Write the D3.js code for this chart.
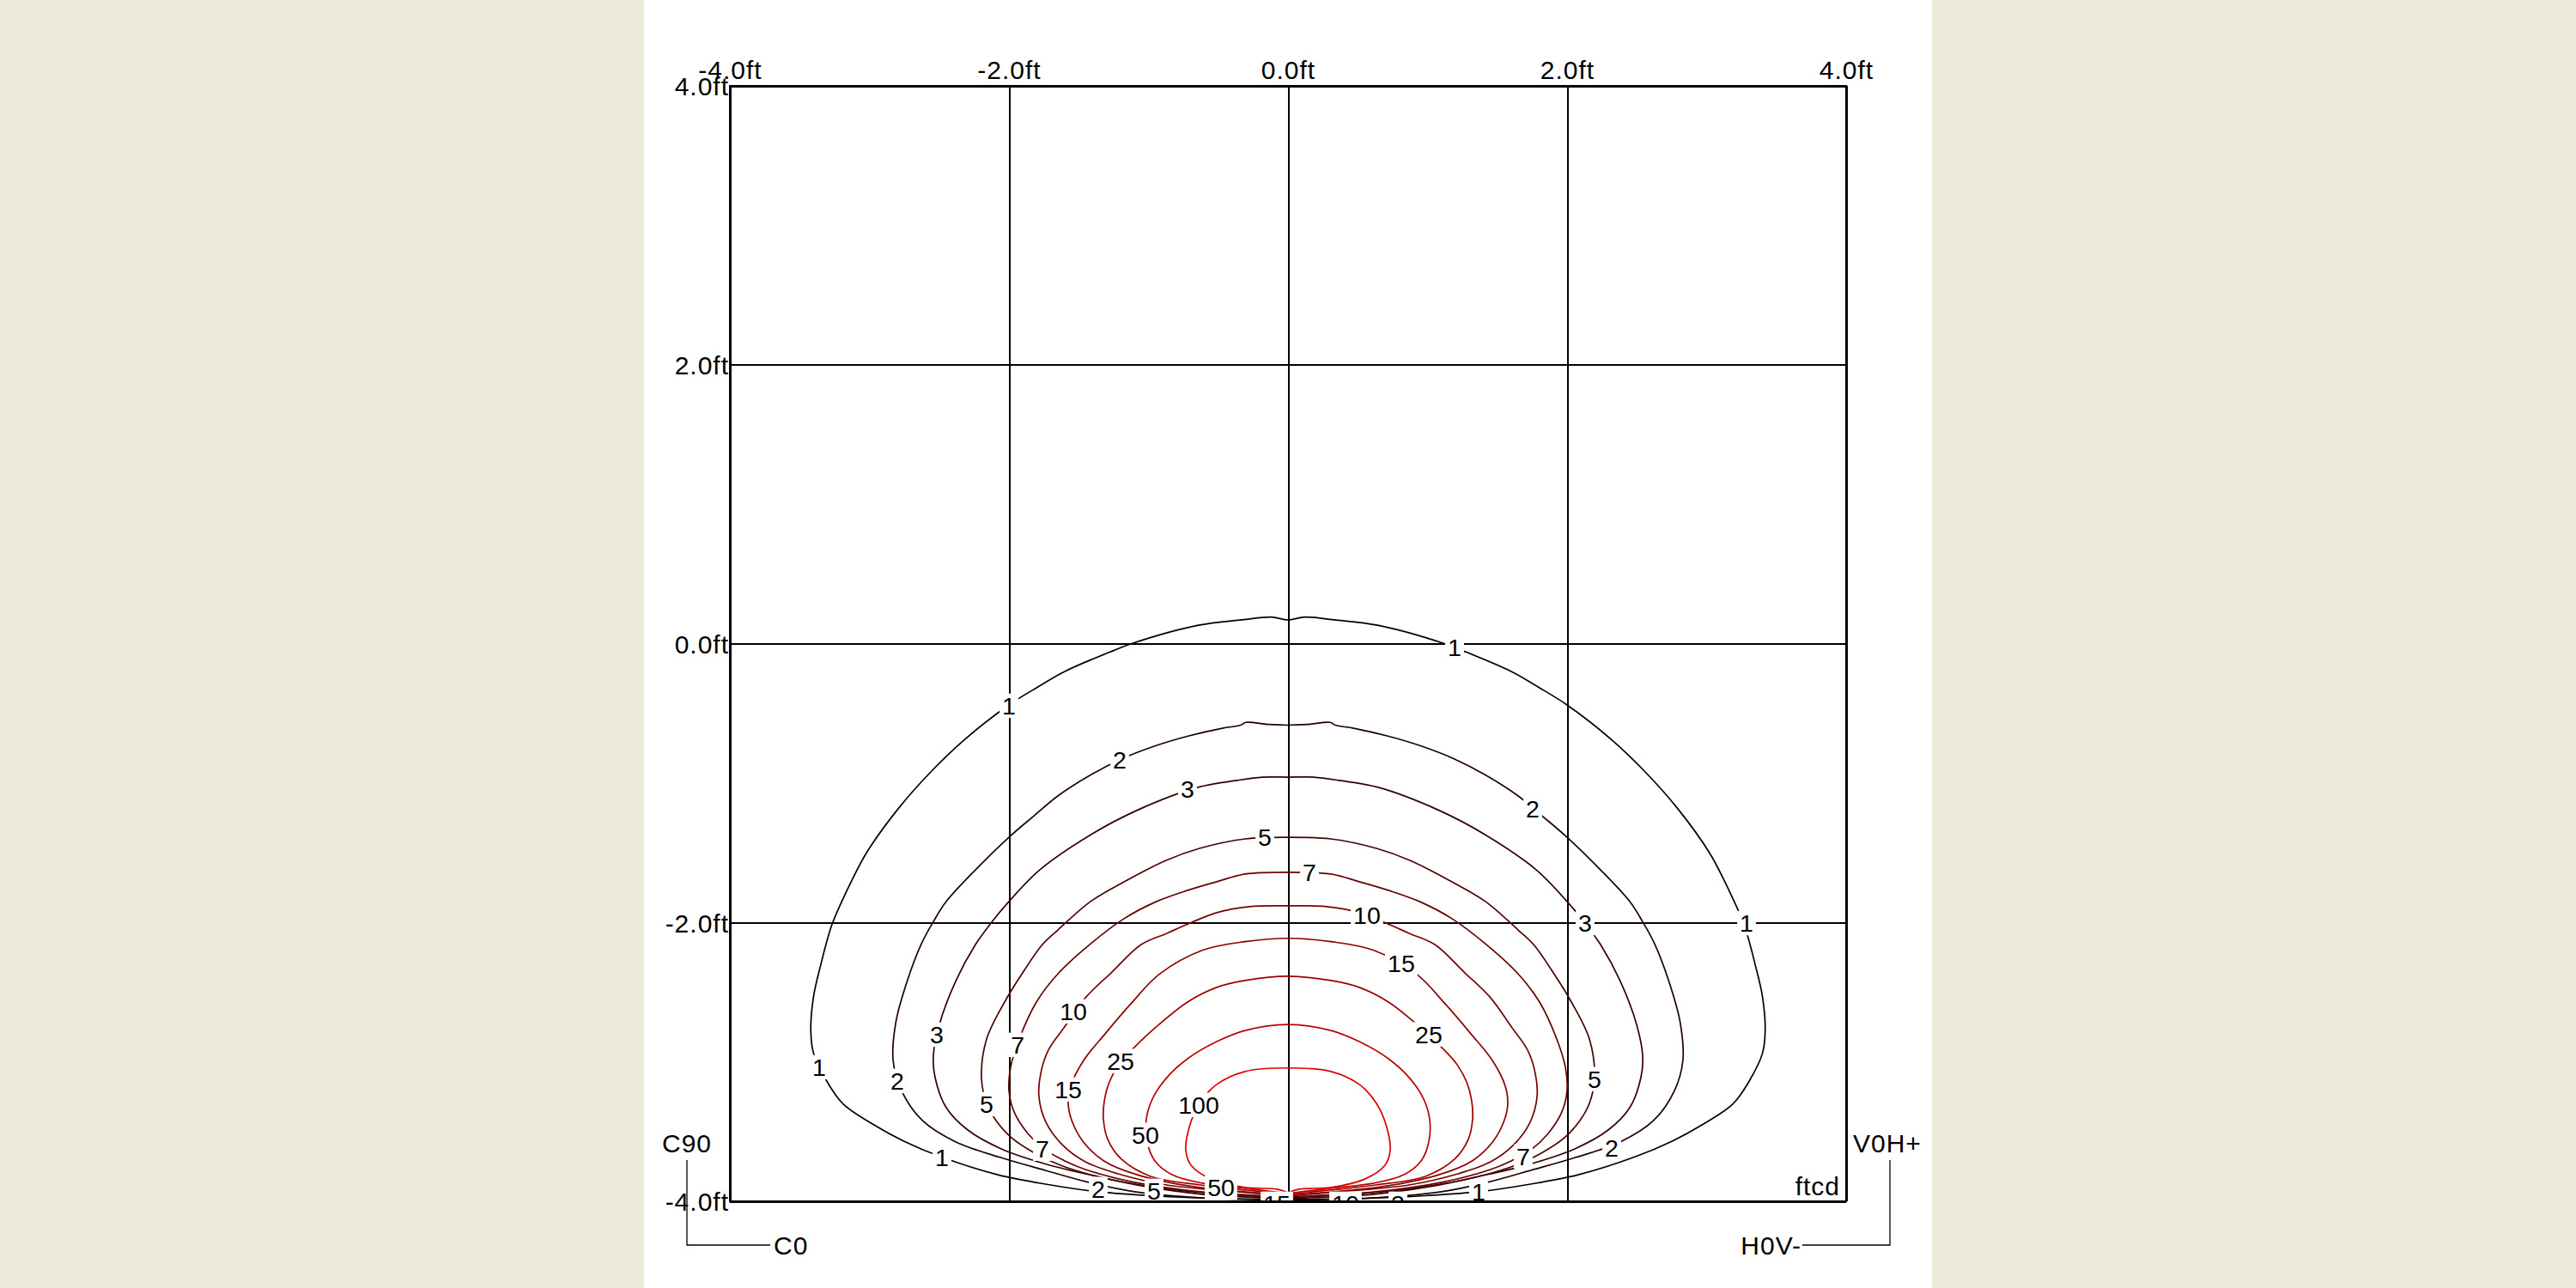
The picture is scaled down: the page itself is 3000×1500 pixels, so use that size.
<!DOCTYPE html>
<html><head><meta charset="utf-8">
<script src="https://cdn.jsdelivr.net/npm/d3@7"></script>
<style>
html,body{margin:0;padding:0;background:#ECE9D8;}
svg{display:block}
text{font-family:"Liberation Sans",Arial,sans-serif;}
</style></head><body>
<svg id="c" width="3000" height="1500"></svg>
<script>
// ---------- data ----------
const xTickValues = [-4, -2, 0, 2, 4];
const yTickValues = [-4, -2, 0, 2, 4];
const xTickLabels = ["-4.0ft", "-2.0ft", "0.0ft", "2.0ft", "4.0ft"];
const yTickLabels = ["-4.0ft", "-2.0ft", "0.0ft", "2.0ft", "4.0ft"];
const levels = [1, 2, 3, 5, 7, 10, 15, 25, 50, 100];
const unitText = "ftcd";
const cornerLeftTexts = ["C90", "C0"];
const cornerRightTexts = ["V0H+", "H0V-"];

// isoline right halves (ft), from top centre clockwise to bottom centre; the left half is the mirror image
const contour1 = [[0,0.17],[0.12,0.19],[0.33,0.17],[0.65,0.13],[1.12,0.0],[1.25,-0.05],[1.6,-0.2],[1.79,-0.31],[2.0,-0.44],[2.32,-0.69],[2.55,-0.91],[2.79,-1.18],[3.02,-1.5],[3.17,-1.79],[3.27,-2.02],[3.35,-2.31],[3.4,-2.53],[3.42,-2.77],[3.4,-2.94],[3.31,-3.13],[3.19,-3.3],[2.97,-3.45],[2.75,-3.57],[2.49,-3.68],[2.08,-3.81],[1.72,-3.88],[1.38,-3.93],[0.98,-3.96],[0.55,-3.98],[0,-3.993]];
const contour2 = [[0,-0.585],[0.14,-0.58],[0.3,-0.565],[0.34,-0.585],[0.47,-0.607],[0.71,-0.662],[0.94,-0.73],[1.18,-0.822],[1.42,-0.945],[1.65,-1.093],[1.82,-1.235],[2.0,-1.389],[2.24,-1.623],[2.45,-1.851],[2.54,-1.992],[2.63,-2.159],[2.73,-2.423],[2.81,-2.713],[2.83,-2.99],[2.77,-3.206],[2.62,-3.421],[2.38,-3.575],[2.06,-3.686],[1.74,-3.778],[1.43,-3.864],[1.1,-3.932],[0.63,-3.975],[0,-3.987]];
const contour3 = [[0,-0.958],[0.185,-0.958],[0.37,-0.982],[0.646,-1.031],[1.071,-1.191],[1.422,-1.376],[1.778,-1.622],[2.0,-1.85],[2.129,-2.005],[2.24,-2.159],[2.382,-2.423],[2.498,-2.731],[2.542,-2.959],[2.529,-3.113],[2.449,-3.329],[2.295,-3.489],[2.055,-3.624],[1.729,-3.735],[1.372,-3.821],[1.015,-3.895],[0.603,-3.951],[0,-3.98]];
const contour5 = [[0,-1.389],[0.308,-1.401],[0.634,-1.469],[0.874,-1.555],[1.175,-1.709],[1.415,-1.85],[1.649,-2.054],[1.76,-2.159],[1.902,-2.362],[2.031,-2.571],[2.16,-2.836],[2.197,-3.113],[2.16,-3.298],[2.092,-3.421],[1.982,-3.544],[1.815,-3.655],[1.631,-3.741],[1.415,-3.809],[1.102,-3.876],[0.615,-3.938],[0,-3.974]];
const contour7 = [[0,-1.64],[0.308,-1.653],[0.511,-1.708],[0.72,-1.77],[0.942,-1.85],[1.175,-1.973],[1.422,-2.159],[1.643,-2.362],[1.803,-2.571],[1.926,-2.836],[1.988,-3.039],[2.0,-3.205],[1.963,-3.359],[1.865,-3.513],[1.742,-3.63],[1.6,-3.71],[1.452,-3.772],[1.102,-3.864],[0.628,-3.932],[0,-3.968]];
const contour10 = [[0,-1.881],[0.277,-1.887],[0.511,-1.93],[0.702,-2.005],[0.868,-2.078],[1.052,-2.159],[1.268,-2.362],[1.452,-2.541],[1.606,-2.756],[1.717,-2.916],[1.772,-3.082],[1.785,-3.249],[1.735,-3.433],[1.618,-3.594],[1.452,-3.717],[1.218,-3.803],[0.868,-3.883],[0.431,-3.926],[0,-3.962]];
const contour15 = [[0,-2.114],[0.308,-2.138],[0.615,-2.2],[0.923,-2.372],[1.12,-2.577],[1.305,-2.792],[1.465,-2.99],[1.557,-3.174],[1.575,-3.3],[1.55,-3.42],[1.47,-3.57],[1.32,-3.71],[1.08,-3.81],[0.677,-3.895],[0,-3.956]];
const contour25 = [[0,-2.386],[0.308,-2.417],[0.511,-2.466],[0.72,-2.571],[0.923,-2.731],[1.102,-2.897],[1.212,-3.02],[1.28,-3.144],[1.317,-3.285],[1.323,-3.409],[1.292,-3.556],[1.194,-3.698],[0.985,-3.821],[0.628,-3.883],[0.3,-3.92],[0,-3.949]];
const contour50 = [[0,-2.732],[0.308,-2.775],[0.511,-2.855],[0.72,-2.978],[0.88,-3.126],[0.972,-3.267],[1.015,-3.409],[1.009,-3.575],[0.954,-3.71],[0.831,-3.809],[0.615,-3.87],[0.308,-3.907],[0,-3.943]];
const contour100 = [[0,-3.044],[0.308,-3.069],[0.511,-3.162],[0.634,-3.298],[0.708,-3.47],[0.732,-3.636],[0.695,-3.741],[0.554,-3.839],[0.308,-3.901],[0.08,-3.913],[0,-3.938]];

// label anchor points (ft)
const labels1 = [[-2.0,-0.446],[1.194,-0.026],[3.286,-2.005],[-3.36,-3.039],[-2.48,-3.686],[1.366,-3.932]];
const labels2 = [[-1.206,-0.833],[1.754,-1.185],[-2.8,-3.137],[2.32,-3.617],[-1.36,-3.912]];
const labels3 = [[-0.72,-1.043],[2.129,-2.005],[-2.517,-2.805],[0.788,-4.018]];
const labels5 = [[-0.166,-1.389],[2.197,-3.124],[-2.16,-3.303],[-0.96,-3.925]];
const labels7 = [[0.154,-1.64],[-1.938,-2.878],[-1.76,-3.623],[1.686,-3.679]];
const labels10 = [[0.566,-1.948],[-1.538,-2.638],[0.412,-4.018]];
const labels15 = [[0.812,-2.293],[-1.575,-3.198],[-0.08,-4.018]];
const labels25 = [[1.009,-2.803],[-1.2,-2.994]];
const labels50 = [[-1.022,-3.524],[-0.48,-3.9]];
const labels100 = [[-0.64,-3.309]];

const contourData = [contour1, contour2, contour3, contour5, contour7, contour10, contour15, contour25, contour50, contour100];
const labelData = [labels1, labels2, labels3, labels5, labels7, labels10, labels15, labels25, labels50, labels100];

// ---------- styles ----------
const levelColors = ["#000000","#1e0000","#330000","#4c0000","#640000","#780000","#8c0000","#a00000","#be0000","#e00000"];
const AXIS_FS = 30, LABEL_FS = 28.5;

// ---------- drawing ----------
const svg = d3.select("#c");
svg.append("rect").attr("x", 750).attr("y", 0).attr("width", 1500).attr("height", 1500).attr("fill", "#ffffff");

const x = d3.scaleLinear().domain([-4, 4]).range([850, 2150]);
const y = d3.scaleLinear().domain([-4, 4]).range([1399, 100]);
const pw = x(4) - x(-4), ph = y(-4) - y(4);

svg.append("defs").append("clipPath").attr("id", "plotClip")
  .append("rect").attr("x", x(-4)).attr("y", y(4)).attr("width", pw).attr("height", ph);

function styleAxis(g) {
  g.select(".domain").remove();
  g.selectAll(".tick line").attr("stroke", "#000").attr("stroke-width", 2).attr("shape-rendering", "crispEdges");
  g.selectAll(".tick text").attr("fill", "#000").attr("font-size", AXIS_FS)
    .attr("font-family", "Liberation Sans, Arial, sans-serif").style("letter-spacing", "1px");
}

svg.append("g").attr("transform", `translate(0,${y(4)})`)
  .call(d3.axisTop(x).tickValues(xTickValues).tickSize(-ph).tickPadding(8)
    .tickFormat((d, i) => xTickLabels[i]))
  .call(styleAxis);

svg.append("g").attr("transform", `translate(${x(-4)},0)`)
  .call(d3.axisLeft(y).tickValues(yTickValues).tickSize(-pw).tickPadding(1)
    .tickFormat((d, i) => yTickLabels[i]))
  .call(styleAxis)
  .call(g => g.selectAll(".tick text").attr("dy", "0.36em"));

// contours
const line = d3.line().x(d => x(d[0])).y(d => y(d[1])).curve(d3.curveCatmullRom.alpha(0.5));
const cg = svg.append("g").attr("clip-path", "url(#plotClip)");
levels.forEach((lv, i) => {
  const half = contourData[i];
  const left = half.slice().reverse().map(p => [-p[0], p[1]]);
  const full = left.concat(half.slice(1));
  cg.append("path").attr("d", line(full)).attr("fill", "none")
    .attr("stroke", levelColors[i]).attr("stroke-width", 1.7).attr("stroke-linejoin", "round");
});

// contour labels
const lg = svg.append("g").attr("clip-path", "url(#plotClip)");
levels.forEach((lv, i) => {
  labelData[i].forEach(p => {
    const g = lg.append("g");
    const cx = x(p[0]), cy = y(p[1]);
    const t = g.append("text").attr("x", cx).attr("y", cy + 0.358 * LABEL_FS)
      .attr("text-anchor", "middle").attr("font-size", LABEL_FS).attr("fill", "#000").text(String(lv));
    const bb = t.node().getBBox();
    g.insert("rect", "text").attr("x", bb.x - 3).attr("y", cy - 0.358 * LABEL_FS - 4)
      .attr("width", bb.width + 6).attr("height", 0.716 * LABEL_FS + 8).attr("fill", "#fff");
  });
});

// frame
svg.append("rect").attr("x", x(-4)).attr("y", y(4)).attr("width", pw).attr("height", ph)
  .attr("fill", "none").attr("stroke", "#000").attr("stroke-width", 2).attr("shape-rendering", "crispEdges");

// unit
svg.append("text").attr("x", x(4) - 7).attr("y", y(-4) - 7).attr("text-anchor", "end")
  .attr("font-size", AXIS_FS).style("letter-spacing", "1px").text(unitText);

// corner annotations
const ann = svg.append("g").attr("font-size", AXIS_FS).style("letter-spacing", "1px");
const lx = x(-4) - 50, rx = x(4) + 51, topY = y(-4) - 48, botY = y(-4) + 51;
ann.append("text").attr("x", x(-4) - 79).attr("y", y(-4) - 57).text(cornerLeftTexts[0]);
ann.append("path").attr("d", `M${lx},${topY}V${botY}H${lx + 97}`).attr("fill", "none").attr("stroke", "#000").attr("stroke-width", 1.3);
ann.append("text").attr("x", lx + 101).attr("y", botY + 10.5).text(cornerLeftTexts[1]);
ann.append("text").attr("x", x(4) + 8).attr("y", y(-4) - 57).text(cornerRightTexts[0]);
ann.append("path").attr("d", `M${rx},${topY}V${botY}H${rx - 102}`).attr("fill", "none").attr("stroke", "#000").attr("stroke-width", 1.3);
ann.append("text").attr("x", rx - 103).attr("y", botY + 10.5).attr("text-anchor", "end").text(cornerRightTexts[1]);
</script>
</body></html>
